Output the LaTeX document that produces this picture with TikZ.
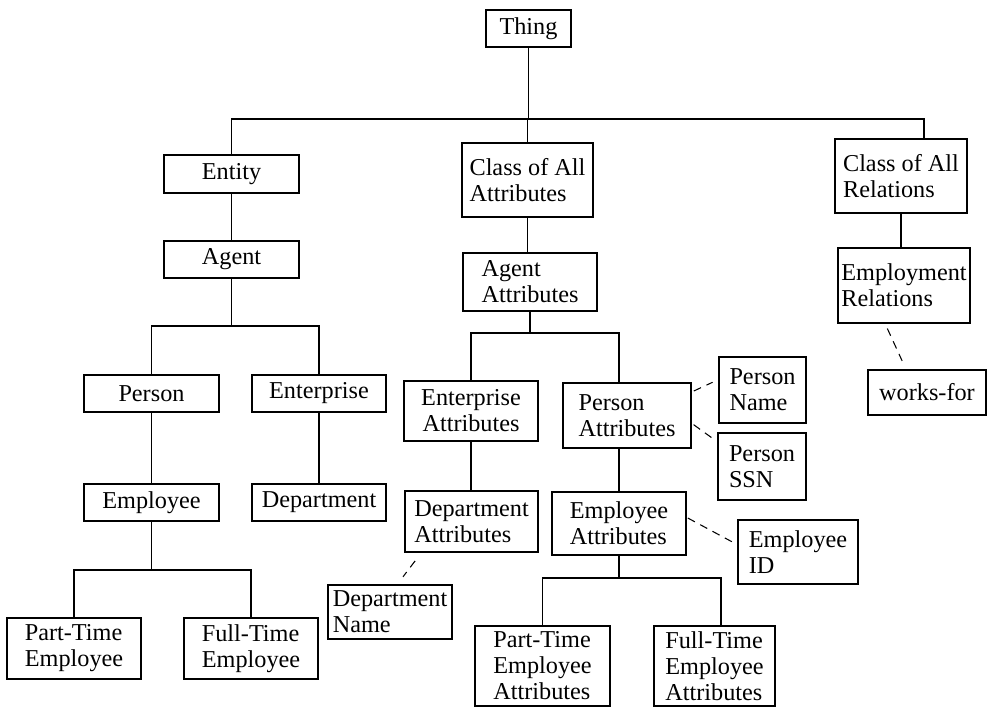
\documentclass[tikz,border=0pt]{standalone}
\usepackage{fontspec}
\setmainfont{Liberation Serif}
\usetikzlibrary{positioning,calc}
\tikzset{
    cls/.style={rectangle,draw,line width=1.1pt,inner sep=2pt,align=left,font=\fontsize{13.8}{14.8}\selectfont},
    treeline/.style={line width=1.1pt},
    slot/.style={line width=0.6pt,dash pattern=on 0.16cm off 0.12cm},
}
\begin{document}
\begin{tikzpicture}[x=0.02cm,y=-0.02cm]
\useasboundingbox (0,0) rectangle (998,717);
% classes
\node[cls,minimum width=1.70cm,minimum height=0.74cm] (thing)      at (528.5,28.5) {Thing};
\node[cls,minimum width=2.70cm,minimum height=0.76cm] (entity)     at (231.5,174)  {Entity};
\node[cls,minimum width=2.62cm,minimum height=1.48cm] (classattr)  at (527.5,180)  {Class of All\\Attributes};
\node[cls,minimum width=2.64cm,minimum height=1.48cm] (classrel)   at (901,176)    {Class of All\\Relations};
\node[cls,minimum width=2.70cm,minimum height=0.74cm] (agent)      at (231.5,259.5) {Agent};
\node[cls,minimum width=2.68cm,minimum height=1.16cm] (agentattr)  at (530,282)    {Agent\\Attributes};
\node[cls,minimum width=2.64cm,minimum height=1.50cm] (emprel)     at (904,285.5)  {Employment\\Relations};
\node[cls,minimum width=2.70cm,minimum height=0.74cm] (person)     at (151.5,393.5) {Person};
\node[cls,minimum width=2.68cm,minimum height=0.74cm] (enterprise) at (319,393.5)  {Enterprise};
\node[cls,minimum width=2.70cm,minimum height=0.74cm] (employee)   at (151.5,502.5) {Employee};
\node[cls,minimum width=2.68cm,minimum height=0.74cm] (department) at (319,502.5)  {Department};
\node[cls,minimum width=2.68cm,minimum height=1.22cm] (parttime)   at (74,648.5)   {Part-Time\\Employee};
\node[cls,minimum width=2.68cm,minimum height=1.22cm] (fulltime)   at (251,648.5)  {Full-Time\\Employee};
\node[cls,minimum width=2.68cm,minimum height=1.20cm,align=center] (entattr) at (471,411) {Enterprise\\Attributes};
\node[cls,minimum width=2.56cm,minimum height=1.30cm] (perattr)    at (627,415.5)  {Person\\Attributes};
\node[cls,minimum width=2.66cm,minimum height=1.22cm] (deptattr)   at (471.5,521.5) {Department\\Attributes};
\node[cls,minimum width=2.68cm,minimum height=1.26cm] (empattr)    at (619,523.5)  {Employee\\Attributes};
\node[cls,minimum width=1.74cm,minimum height=1.32cm] (pername)    at (762.5,390)  {Person\\Name};
\node[cls,minimum width=1.76cm,minimum height=1.34cm] (perssn)     at (762,466.5)  {Person\\SSN};
\node[cls,minimum width=2.40cm,minimum height=1.28cm] (empid)      at (798,552)    {Employee\\ID};
\node[cls,minimum width=2.48cm,minimum height=1.08cm] (deptname)   at (390,612)    {Department\\Name};
\node[cls,minimum width=2.70cm,minimum height=1.60cm] (ptattr)     at (542.5,666)  {Part-Time\\Employee\\Attributes};
\node[cls,minimum width=2.42cm,minimum height=1.60cm] (ftattr)     at (714.5,666)  {Full-Time\\Employee\\Attributes};
\node[cls,minimum width=2.36cm,minimum height=0.90cm] (worksfor)   at (927,392.5)  {works-for};

% bus levels
\coordinate (bus0) at (0,119);
\coordinate (bus1) at (0,326);
\coordinate (bus2) at (0,570);
\coordinate (bus3) at (0,333);
\coordinate (bus4) at (0,578);
\coordinate (relin)  at ([xshift=0.46cm]classrel.north);
\coordinate (perin)  at ([xshift=-0.16cm]perattr.north);
\coordinate (ftin)   at ([xshift=0.13cm]ftattr.north);

% subclass links
\draw[treeline] (thing.south) -- (thing.south |- bus0);
\draw[treeline] (entity.north) |- (relin |- bus0) -- (relin);
\draw[treeline] (classattr.north) -- (classattr.north |- bus0);
\draw[treeline] (entity) -- (agent);
\draw[treeline] (agent.south) -- (agent.south |- bus1);
\draw[treeline] (person.north) |- (bus1 -| enterprise.north) -- (enterprise.north);
\draw[treeline] (person) -- (employee);
\draw[treeline] (enterprise) -- (department);
\draw[treeline] (employee.south) -- (employee.south |- bus2);
\draw[treeline] (parttime.north) |- (bus2 -| fulltime.north) -- (fulltime.north);
\draw[treeline] (classattr.south) -- (classattr.south |- agentattr.north);
\draw[treeline] (agentattr.south) -- (agentattr.south |- bus3);
\draw[treeline] (entattr.north) |- (perin |- bus3) -- (perin);
\draw[treeline] (entattr.south) -- (entattr.south |- deptattr.north);
\draw[treeline] (empattr.north) -- (empattr.north |- perattr.south);
\draw[treeline] (empattr.south) -- (empattr.south |- bus4);
\draw[treeline] (ptattr.north) |- (ftin |- bus4) -- (ftin);
\draw[treeline] (classrel.south) -- (classrel.south |- emprel.north);

% attribute / instance links
\draw[slot,shorten <=0.04cm,shorten >=0.12cm] (perattr.20) -- (pername.167);
\draw[slot,shorten <=0.04cm,shorten >=0.04cm] (perattr.-7) -- (perssn.151);
\draw[slot,shorten <=0.02cm] (empattr.5) -- (empid.173);
\draw[slot,shorten <=0.2cm,shorten >=0.18cm] (deptattr.212) -- (deptname.75);
\draw[slot,shorten <=0.1cm,shorten >=0.18cm] (emprel.244) -- (worksfor.132);
\end{tikzpicture}
\end{document}
